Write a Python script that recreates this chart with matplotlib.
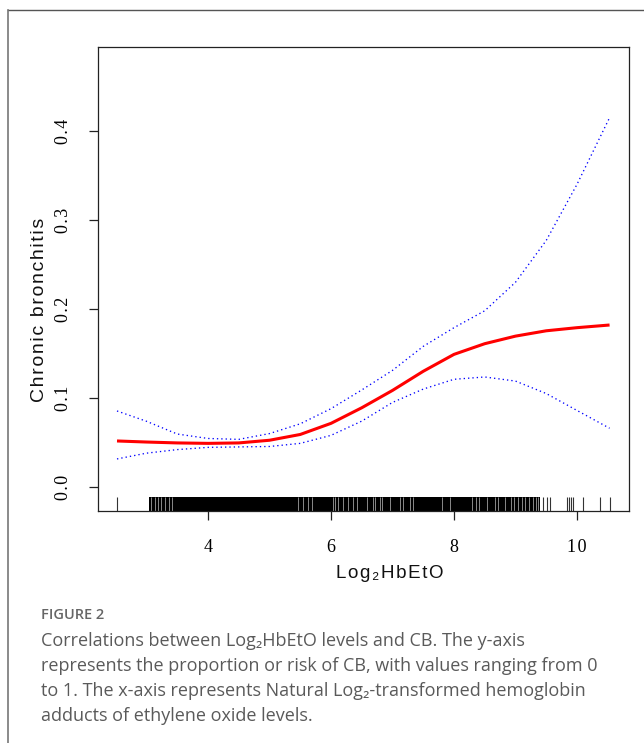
import matplotlib
matplotlib.use("Agg")
import matplotlib.pyplot as plt
from matplotlib.lines import Line2D

# ---------------- data ----------------
x_grid = [2.52, 3.0, 3.5, 4.0, 4.5, 5.0, 5.5, 6.0, 6.5, 7.0, 7.5, 8.0, 8.5, 9.0, 9.5, 10.0, 10.53]
fit = [0.0517, 0.0505, 0.0495, 0.0490, 0.0495, 0.0525, 0.0590, 0.0715, 0.0890, 0.1085, 0.1300,
       0.1490, 0.1610, 0.1695, 0.1755, 0.1790, 0.1820]
upper = [0.0854, 0.0738, 0.0595, 0.0545, 0.0535, 0.0600, 0.0710, 0.0880, 0.1090, 0.1310, 0.1580,
         0.1790, 0.1980, 0.2300, 0.2770, 0.3400, 0.4150]
lower = [0.0315, 0.0380, 0.0420, 0.0445, 0.0450, 0.0455, 0.0490, 0.0580, 0.0740, 0.0950, 0.1100,
         0.1210, 0.1236, 0.1190, 0.1050, 0.0860, 0.0660]

# rug (observations along x axis)
rug_single = [2.52, 9.447, 9.51, 9.56, 9.837, 9.87, 9.90, 9.935, 10.098, 10.374, 10.537]
rug_bands = [(3.04, 9.40)]
rug_gaps = [3.08, 3.13, 3.18, 3.24, 3.30, 3.36, 3.42,
            5.46, 5.55, 5.63, 5.69, 6.03, 6.07, 6.11, 6.20, 6.28, 6.36, 6.42, 6.58, 6.68, 6.80,
            6.715, 6.824, 6.959, 7.122, 7.171, 7.285, 7.333, 7.80, 7.935,
            8.30, 8.36, 8.40, 8.53, 8.667, 8.715, 8.83,
            8.92, 8.98, 9.04, 9.10, 9.16, 9.22, 9.28, 9.33, 9.37]

x_ticks = [4, 6, 8, 10]
y_ticks = [0.0, 0.1, 0.2, 0.3, 0.4]
y_tick_labels = ["0.0", "0.1", "0.2", "0.3", "0.4"]

x_label = "Log\u2082HbEtO"
y_label = "Chronic bronchitis"
fig_label = "FIGURE 2"
caption_lines = [
    "Correlations between Log\u2082HbEtO levels and CB. The y-axis",
    "represents the proportion or risk of CB, with values ranging from 0",
    "to 1. The x-axis represents Natural Log\u2082-transformed hemoglobin",
    "adducts of ethylene oxide levels.",
]

# ---------------- figure ----------------
W, H = 644, 743
fig = plt.figure(figsize=(W / 100, H / 100), dpi=100)

def fx(px):
    return px / W

def fy(py):
    return 1 - py / H

def spaced(s):
    return "\u200a".join(list(s))

ax = fig.add_axes([fx(98), fy(511), fx(629) - fx(98), fy(47) - fy(511)])

ax.plot(x_grid, upper, color="#0000ff", lw=0.95, linestyle=(0, (1, 2.3)))
ax.plot(x_grid, lower, color="#0000ff", lw=0.95, linestyle=(0, (1, 2.3)))
ax.plot(x_grid, fit, color="#ff0000", lw=2.2, solid_capstyle="butt")

rug_h = 14 / 464
tr = ax.get_xaxis_transform()
for a, b in rug_bands:
    ax.axvspan(a, b, ymin=0, ymax=rug_h, color="#000000", lw=0)
ax.vlines(rug_gaps, 0, rug_h, transform=tr, color="#a0a0a0", lw=0.6)
ax.vlines(rug_single, 0, rug_h, transform=tr, color="#333333", lw=0.8)

ax.set_xlim(2.211, 10.846)
ax.set_ylim(-0.027, 0.4944)

serif = ["Liberation Serif", "DejaVu Serif"]
ax.set_xticks(x_ticks)
ax.set_xticklabels([spaced(str(t)) for t in x_ticks], fontfamily=serif, fontsize=13)
ax.set_yticks(y_ticks)
ax.set_yticklabels([spaced(t) for t in y_tick_labels], fontfamily=serif, fontsize=13,
                   rotation=90, va="center")
ax.tick_params(axis="x", length=6.5, width=0.9, pad=14, color="#222222")
ax.tick_params(axis="y", length=6.5, width=0.9, pad=12, color="#222222")
for s in ax.spines.values():
    s.set_linewidth(0.9)
    s.set_color("#222222")

sans = ["Liberation Sans", "DejaVu Sans"]
fig.text(fx(390), fy(573), spaced(x_label), ha="center", va="center",
         fontsize=13.5, fontfamily=sans, color="#111111")
fig.text(fx(40), fy(310), spaced(y_label), ha="center", va="center", rotation=90,
         fontsize=14, fontfamily=sans, color="#111111")

# outer frame (top and left)
fig.add_artist(Line2D([fx(8), 1.0], [fy(10), fy(10)], transform=fig.transFigure,
                      color="#555555", lw=1.0))
fig.add_artist(Line2D([fx(8), fx(8)], [fy(10), 0.0], transform=fig.transFigure,
                      color="#777777", lw=1.2))

cap_font = ["Open Sans", "DejaVu Sans"]
fig.text(fx(41), fy(615), fig_label, ha="left", va="center", fontsize=10.5,
         fontfamily=cap_font, fontweight="semibold", color="#666666")
for i, line in enumerate(caption_lines):
    fig.text(fx(41), fy(641 + 25 * i), line, ha="left", va="center", fontsize=13,
             fontfamily=cap_font, color="#5a5a5a")

fig.savefig("out.png", dpi=100)
